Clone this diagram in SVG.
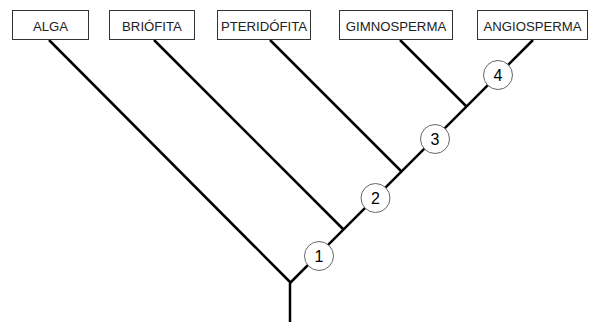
<svg xmlns="http://www.w3.org/2000/svg" width="591" height="322" viewBox="0 0 591 322">
<style>
.box rect{fill:#fff;stroke:#333;stroke-width:1}
.box text{font-family:"Liberation Sans",Arial,sans-serif;font-size:13.2px;fill:#222;text-anchor:middle}
.edge{stroke:#000;stroke-width:2.5;fill:none;stroke-linecap:butt}
.num circle{fill:#fff;stroke:#666;stroke-width:1}
.num text{font-family:"Liberation Sans",Arial,sans-serif;font-size:16px;fill:#000;text-anchor:middle}
</style>
<rect width="591" height="322" fill="#fff"/>
<g id="connectors">
<line class="edge" x1="290" y1="322" x2="290" y2="283"/>
<line class="edge" x1="290" y1="283" x2="533" y2="40"/>
<line class="edge" x1="49" y1="40" x2="291" y2="283"/>
<line class="edge" x1="154" y1="40" x2="344" y2="230"/>
<line class="edge" x1="270" y1="40" x2="402" y2="172"/>
<line class="edge" x1="400" y1="40" x2="467" y2="107"/>
</g>
<g id="alga" class="box"><rect x="12.5" y="10.5" width="76" height="29"/><text x="50.5" y="30.5">ALGA</text></g>
<g id="briofita" class="box"><rect x="109.5" y="10.5" width="85" height="29"/><text x="152" y="30.5">BRIÓFITA</text></g>
<g id="pteridofita" class="box"><rect x="217.5" y="10.5" width="93" height="29"/><text x="264" y="30.5">PTERIDÓFITA</text></g>
<g id="gimnosperma" class="box"><rect x="339.5" y="10.5" width="113" height="29"/><text x="396" y="30.5">GIMNOSPERMA</text></g>
<g id="angiosperma" class="box"><rect x="477.5" y="10.5" width="110" height="29"/><text x="532.5" y="30.5">ANGIOSPERMA</text></g>
<g id="n1" class="num"><circle cx="319" cy="256" r="14.5"/><text x="319" y="262">1</text></g>
<g id="n2" class="num"><circle cx="375.5" cy="198" r="14.5"/><text x="375.5" y="204">2</text></g>
<g id="n3" class="num"><circle cx="435" cy="139" r="14.5"/><text x="435" y="145">3</text></g>
<g id="n4" class="num"><circle cx="498" cy="75" r="14.5"/><text x="498" y="81">4</text></g>
</svg>
